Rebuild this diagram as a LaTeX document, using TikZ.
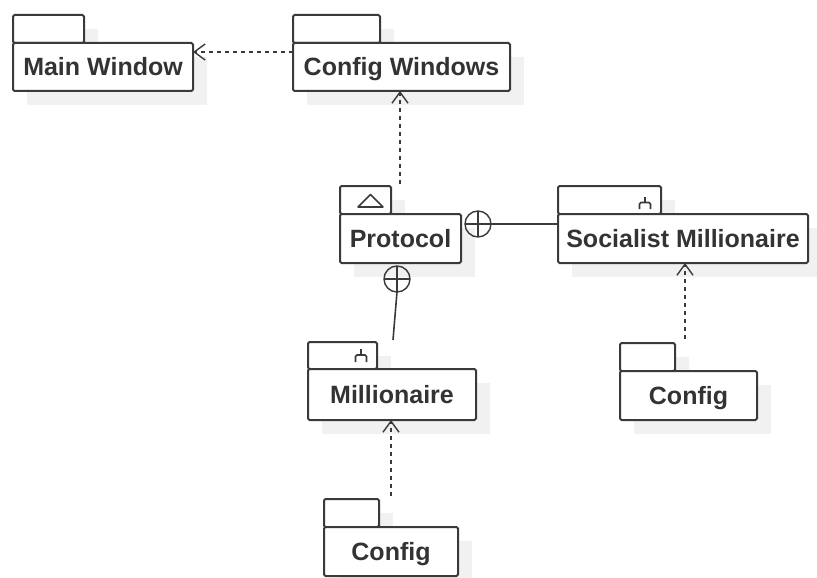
\documentclass[tikz,border=0pt]{standalone}
\usepackage{fontspec}
\setmainfont{Liberation Sans}
\usetikzlibrary{arrows.meta,calc}
\definecolor{linec}{HTML}{3A3A3A}
\definecolor{textc}{HTML}{333333}
\definecolor{shadowc}{HTML}{F1F1F1}
\tikzset{
  pkgbody/.style={draw=linec, line width=2pt, fill=white, rounded corners=1.5pt, rectangle, outer sep=0pt, inner sep=0pt, anchor=north west, text=textc, font=\fontsize{25}{30}\selectfont\bfseries, text height=18pt, text depth=0pt},
  pkgtab/.style={draw=linec, line width=2pt, fill=white, rounded corners=1.5pt, rectangle, outer sep=0pt, inner sep=0pt, anchor=north west},
  pkgshadow/.style={fill=shadowc},
  dep/.style={draw=linec, line width=1.6pt, dash pattern=on 4pt off 4pt, -{Straight Barb[length=11pt,width=16pt,line width=1.4pt]}},
  nestline/.style={draw=linec, line width=1.6pt},
  nestcirc/.style={circle, draw=linec, line width=1.4pt, minimum size=26pt, inner sep=0pt, outer sep=0pt},
  icon/.style={draw=linec, line width=1.6pt}
}
% #1 name, #2 x1, #3 tab top, #4 tab right, #5 body top, #6 x2, #7 y2, #8 text
\newcommand{\umlpkg}[8]{%
  \fill[pkgshadow] (#2+14,#3+14) rectangle (#4+14,#5+14);
  \fill[pkgshadow] (#2+14,#5+14) rectangle (#6+14,#7+14);
  \pgfmathsetmacro\pkgtw{#4-#2}%
  \pgfmathsetmacro\pkgth{#5-#3}%
  \pgfmathsetmacro\pkgbw{#6-#2}%
  \pgfmathsetmacro\pkgbh{#7-#5}%
  \node[pkgtab, minimum width=\pkgtw pt, minimum height=\pkgth pt] (#1tab) at (#2,#3) {};
  \node[pkgbody, minimum width=\pkgbw pt, minimum height=\pkgbh pt] (#1) at (#2,#5) {#8};
}
\begin{document}
\begin{tikzpicture}[x=1pt, y=-1pt]
\useasboundingbox (0,0) rectangle (817,578);
\umlpkg{mainwin}{13}{15}{84}{43}{193}{91}{Main Window}
\umlpkg{cfgwin}{293}{15}{380}{43}{510}{91}{Config Windows}
\umlpkg{protocol}{340}{186}{391}{214}{461}{263}{Protocol}
\umlpkg{smill}{558}{186}{661}{214}{808}{263}{Socialist Millionaire}
\umlpkg{mill}{308}{342}{377}{369}{476}{420}{Millionaire}
\umlpkg{cfgr}{620}{343}{675}{371}{757}{420}{Config}
\umlpkg{cfgb}{324}{499}{379}{527}{458}{576}{Config}
% icons
\draw[icon, line join=round] (358,207) -- (383,207) -- (370.5,194.5) -- cycle;
\draw[icon] (645,196.5) -- (645,202.5);
\draw[icon, rounded corners=1.5pt] (639.5,209) -- (639.5,202.5) -- (650.5,202.5) -- (650.5,209);
\draw[icon] (361,348.5) -- (361,355);
\draw[icon, rounded corners=1.5pt] (355.5,362) -- (355.5,355) -- (366.5,355) -- (366.5,362);
% dependencies
\draw[dep] ([yshift=15pt]cfgwin.west) -- ([yshift=15pt]mainwin.east);
\coordinate (p1) at (400,184);
\draw[dep] (p1) -- (p1 |- cfgwin.south);
\coordinate (c1) at (685,339);
\draw[dep] (c1) -- (c1 |- smill.south);
\coordinate (c2) at (391,496);
\draw[dep] (c2) -- (c2 |- mill.south);
% nesting
\node[nestcirc] (nest1) at (478,224) {};
\draw[nestline] (nest1.north) -- (nest1.south) (nest1.west) -- (nest1.east);
\draw[nestline] (nest1.east) -- (nest1.east -| smill.west);
\node[nestcirc] (nest2) at (397,279) {};
\draw[nestline] (nest2.north) -- (nest2.south) (nest2.west) -- (nest2.east);
\coordinate (m1) at (393,340);
\draw[nestline] (m1) -- (nest2.south);
\end{tikzpicture}
\end{document}
